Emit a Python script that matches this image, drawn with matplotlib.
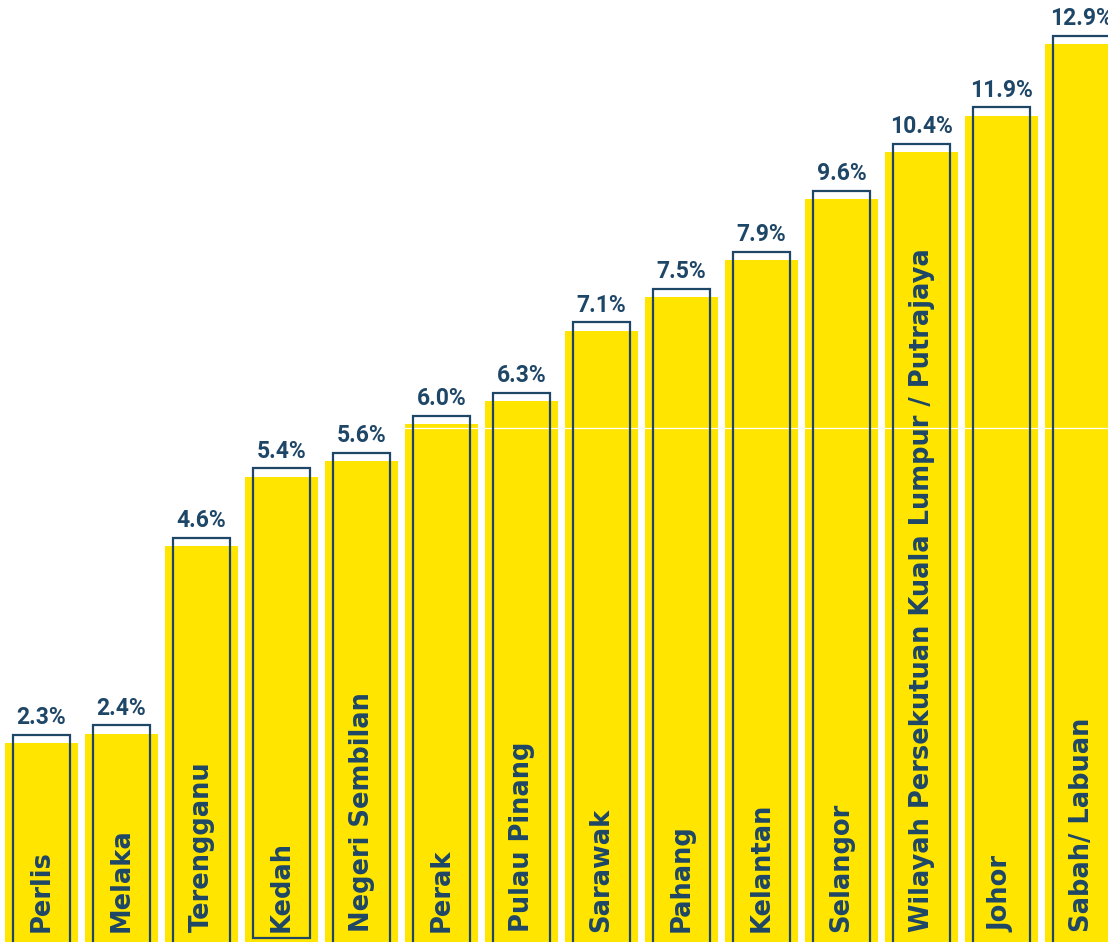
import numpy as np
import matplotlib
matplotlib.use("Agg")
import matplotlib.pyplot as plt

# --- DATA ---
states = ["Perlis", "Melaka", "Terengganu", "Kedah", "Negeri Sembilan", "Perak",
          "Pulau Pinang", "Sarawak", "Pahang", "Kelantan", "Selangor",
          "Wilayah Persekutuan Kuala Lumpur / Putrajaya", "Johor", "Sabah/ Labuan"]
shares = [2.3, 2.4, 4.6, 5.4, 5.6, 6.0, 6.3, 7.1, 7.5, 7.9, 9.6, 10.4, 11.9, 12.9]
# drawn bar heights as they appear in the graphic (not strictly to scale)
bar_heights = [2.84, 2.97, 5.65, 6.64, 6.86, 7.39, 7.72, 8.72, 9.20, 9.73,
               10.60, 11.27, 11.79, 12.81]
closed_box = "Kedah"

# --- STYLE ---
yellow = "#FFE500"
navy = "#1E4667"
lift = 0.12          # outline box sits a little above the yellow bar

x = np.arange(len(states))

fig = plt.figure(figsize=(11.08, 9.42), dpi=100)
ax = fig.add_axes([0, 0, 1, 1])
ax.set_xlim(-0.519, 13.33)
ax.set_ylim(0, 13.44)
ax.axis("off")

ax.bar(x, bar_heights, width=0.91, color=yellow, zorder=1)

for xi, name, h in zip(x, states, bar_heights):
    bottom = 0.06 if name == closed_box else -0.2
    ax.bar(xi, h + lift - bottom, bottom=bottom, width=0.71, fill=False,
           edgecolor=navy, linewidth=1.6, zorder=3)

# faint white streak crossing the bars
ax.axhline(7.33, color="white", lw=0.9, zorder=2)

for xi, v, h in zip(x, shares, bar_heights):
    ax.annotate(f"{v:.1f}%", (xi, h + lift), xytext=(0, 4), textcoords="offset points",
                ha="center", va="bottom", fontsize=16.5, fontweight="bold",
                color=navy, family="Roboto", zorder=4)

for xi, name in zip(x, states):
    ax.text(xi, 0.14, name, rotation=90, ha="center", va="bottom",
            fontsize=18.5, fontweight="bold", color=navy, family="DejaVu Sans", zorder=4)

fig.savefig("out.png", dpi=100)
